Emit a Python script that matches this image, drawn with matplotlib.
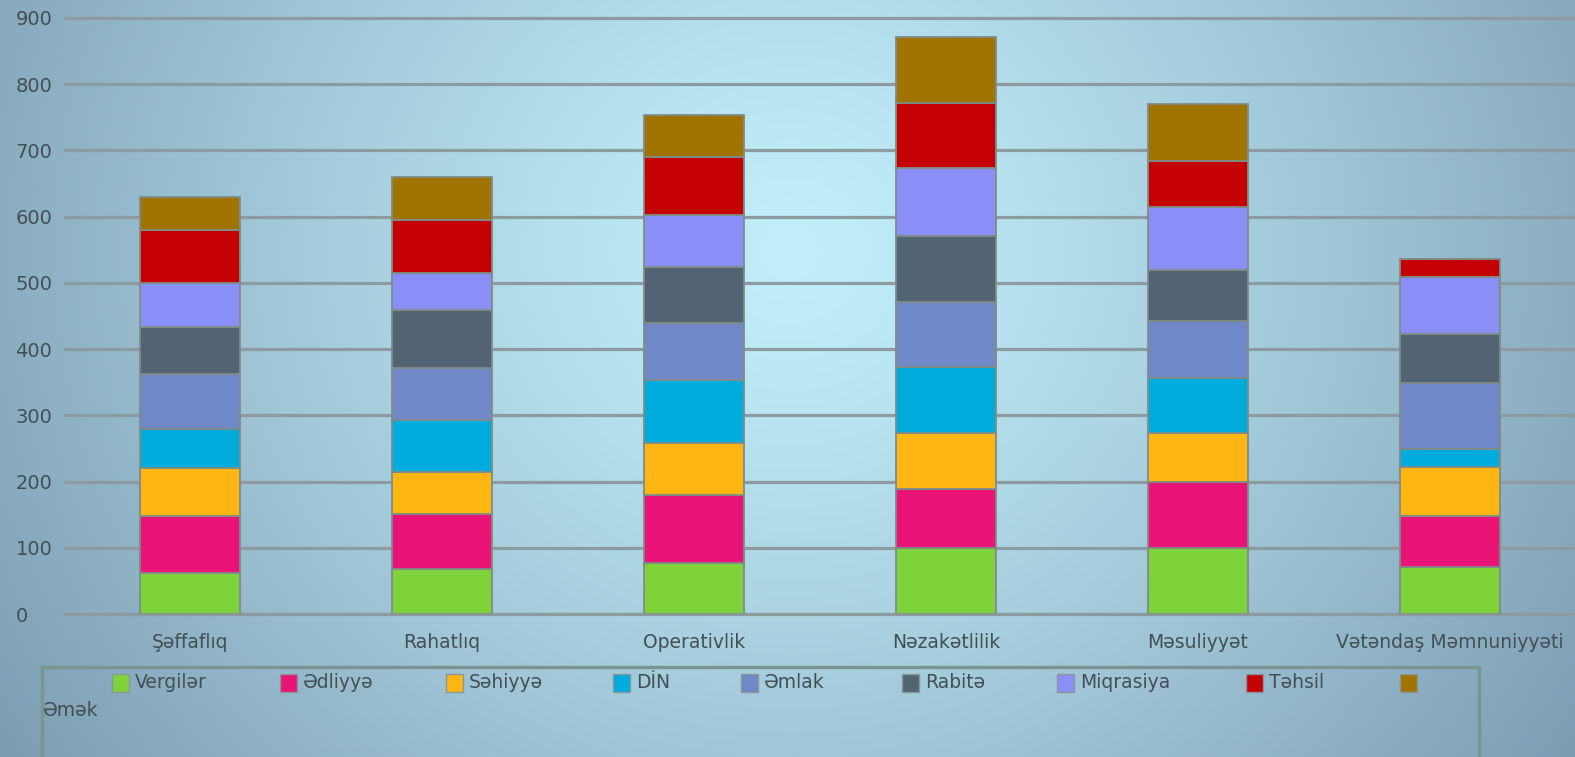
import numpy as np
import matplotlib
matplotlib.use('Agg')
import matplotlib.pyplot as plt
from matplotlib.patches import Rectangle
from matplotlib.colors import to_rgb

categories = ['Şəffaflıq', 'Rahatlıq', 'Operativlik', 'Nəzakətlilik',
              'Məsuliyyət', 'Vətəndaş Məmnuniyyəti']
series_names = ['Vergilər', 'Ədliyyə', 'Səhiyyə', 'DİN', 'Əmlak',
                'Rabitə', 'Miqrasiya', 'Təhsil', 'Əmək']
vergiler = [62, 68, 77, 100, 100, 71]
edliyye = [86, 83, 103, 88, 100, 77]
sehiyye = [72, 63, 78, 85, 73, 74]
din = [60, 79, 95, 100, 84, 27]
emlak = [83, 79, 87, 98, 86, 100]
rabite = [71, 87, 84, 100, 77, 74]
miqrasiya = [66, 56, 79, 102, 94, 86]
tehsil = [80, 80, 87, 98, 70, 27]
emek = [50, 65, 64, 100, 86, 0]
yticks = [0, 100, 200, 300, 400, 500, 600, 700, 800, 900]

series = [vergiler, edliyye, sehiyye, din, emlak, rabite, miqrasiya, tehsil, emek]
colors = ['#7ed23a', '#ea1478', '#ffb612', '#00acdd', '#7088c8',
          '#526473', '#8a8ff8', '#c50005', '#a17300']
text_color = '#434e56'

W, H = 1575, 757
fig = plt.figure(figsize=(W / 100, H / 100), dpi=100)


def fx(px):
    return px / W


def fy(py):
    return 1 - py / H


# radial background
bg = fig.add_axes([0, 0, 1, 1], zorder=-10)
yy, xx = np.mgrid[0:H, 0:W]
d = np.sqrt(((xx - 790) / 1.0) ** 2 + ((yy - 250) / 0.95) ** 2) / 960
t = np.clip(d, 0, 1) ** 1.25
c0 = np.array(to_rgb('#c2eefa'))
c1 = np.array(to_rgb('#7b9bb1'))
img = c0[None, None, :] * (1 - t[..., None]) + c1[None, None, :] * t[..., None]
bg.imshow(img, aspect='auto', extent=[0, W, H, 0])
bg.axis('off')

# plot area
ax = fig.add_axes([fx(64), fy(614), fx(1576) - fx(64), fy(14) - fy(614)])
ax.set_facecolor('none')
x = np.arange(len(categories))
bottom = np.zeros(len(categories))
for vals, col in zip(series, colors):
    ax.bar(x, vals, 0.4, bottom=bottom, color=col, edgecolor='#7f8c86',
           linewidth=1.3, zorder=3)
    bottom += np.array(vals)

ax.set_xlim(-0.5, 5.5)
ax.set_ylim(0, 906)
ax.set_yticks(yticks)
ax.yaxis.grid(True, color='#8d9aa0', linewidth=2.3, zorder=1)
ax.set_axisbelow(True)
for s in ['top', 'right', 'left']:
    ax.spines[s].set_visible(False)
ax.spines['bottom'].set_color('#8d9aa0')
ax.spines['bottom'].set_linewidth(2.3)
ax.tick_params(axis='both', length=0, labelcolor=text_color, labelsize=13.5)
ax.tick_params(axis='y', pad=35, labelsize=14)
for lbl in ax.get_yticklabels():
    lbl.set_horizontalalignment('left')
ax.set_xticks(x)
ax.set_xticklabels(categories)
ax.tick_params(axis='x', pad=14)

# legend drawn in a framed box below the plot
fig.add_artist(Rectangle((fx(42), fy(790)), fx(1479) - fx(42), fy(667) - fy(790),
                         transform=fig.transFigure, fill=False,
                         edgecolor='#7a958d', linewidth=2.4))
leg_x = [112, 280, 446, 613, 741, 902, 1057, 1246, 1400]
for i, (name, col) in enumerate(zip(series_names, colors)):
    lx = leg_x[i]
    fig.add_artist(Rectangle((fx(lx), fy(692)), fx(17), 18 / H,
                             transform=fig.transFigure, facecolor=col,
                             edgecolor='#8a979a', linewidth=1))
    if i < len(series_names) - 1:
        fig.text(fx(lx + 23), fy(683), name, fontsize=13.5, color=text_color,
                 ha='left', va='center')
    else:
        fig.text(fx(43), fy(711), name, fontsize=13.5, color=text_color,
                 ha='left', va='center')

fig.savefig('out.png', dpi=100)
